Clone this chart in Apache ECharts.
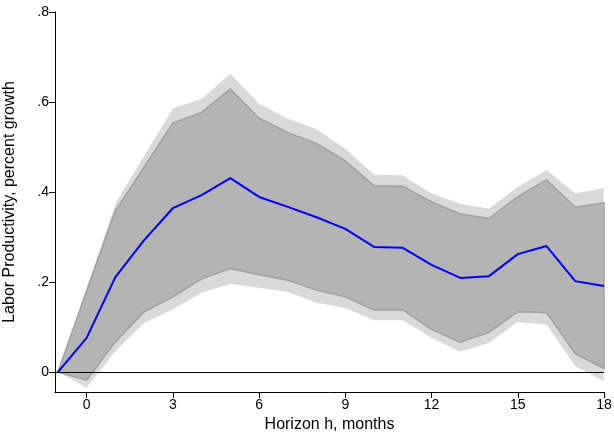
<!DOCTYPE html>
<html>
<head>
<meta charset="utf-8">
<script src="https://cdn.jsdelivr.net/npm/echarts@6/dist/echarts.min.js"></script>
<style>
  html, body { margin: 0; padding: 0; background: #fff; }
  #chart { width: 614px; height: 432px; }
</style>
</head>
<body>
<div id="chart"></div>
<script>
// horizonte en meses
const horizon = [-1, 0, 1, 2, 3, 4, 5, 6, 7, 8, 9, 10, 11, 12, 13, 14, 15, 16, 17, 18];
// respuesta estimada
const irf = [0, 0.076, 0.211, 0.293, 0.364, 0.393, 0.431, 0.389, 0.367, 0.344, 0.318, 0.278, 0.276, 0.238, 0.209, 0.213, 0.262, 0.28, 0.202, 0.191];
// banda interior
const innerLow = [0, -0.018, 0.067, 0.134, 0.167, 0.207, 0.23, 0.216, 0.204, 0.182, 0.167, 0.138, 0.138, 0.095, 0.066, 0.088, 0.134, 0.132, 0.041, 0.008];
const innerHigh = [0, 0.18, 0.358, 0.455, 0.553, 0.577, 0.629, 0.564, 0.532, 0.508, 0.469, 0.414, 0.413, 0.378, 0.351, 0.341, 0.39, 0.427, 0.366, 0.376];
// banda exterior
const outerLow = [0, -0.036, 0.045, 0.108, 0.138, 0.175, 0.195, 0.186, 0.177, 0.153, 0.141, 0.114, 0.114, 0.075, 0.044, 0.064, 0.11, 0.104, 0.012, -0.022];
const outerHigh = [0, 0.19, 0.376, 0.482, 0.587, 0.608, 0.664, 0.597, 0.564, 0.541, 0.497, 0.44, 0.438, 0.398, 0.375, 0.364, 0.412, 0.45, 0.398, 0.41];
// etiquetas de los ejes
const xTicks = [0, 3, 6, 9, 12, 15, 18];
const yTicks = [0, 0.2, 0.4, 0.6, 0.8];

const pairs = arr => horizon.map((h, i) => [h, arr[i]]);

const chart = echarts.init(document.getElementById("chart"));
const font = "Liberation Sans";

// banda como polígono: sube por el límite superior y baja por el inferior
const band = (name, lo, hi, fill, edge, edgeWidth) => ({
    name: name,
    type: "custom",
    silent: true,
    data: [0],
    encode: { x: -1, y: -1 },
    renderItem: function (params, api) {
        const top = horizon.map((h, i) => api.coord([h, hi[i]]));
        const bottom = horizon.map((h, i) => api.coord([h, lo[i]]));
        const ring = top.concat(bottom.slice().reverse());
        return {
            type: "polygon",
            shape: { points: ring },
            style: { fill: fill, stroke: edge, lineWidth: edgeWidth }
        };
    }
});

const option = {
    animation: false,
    backgroundColor: "#fff",
    grid: { left: 55, right: 10, top: 12, bottom: 40, containLabel: false, outerBoundsMode: "none" },
    xAxis: {
        type: "value",
        min: -1.1,
        max: 18,
        name: "Horizon h, months",
        nameLocation: "middle",
        nameGap: 24,
        nameTextStyle: { fontFamily: font, fontSize: 16, color: "#000" },
        axisLine: { show: true, onZero: false, lineStyle: { color: "#000", width: 1 } },
        axisTick: { show: true, length: 6, customValues: xTicks, lineStyle: { color: "#000" } },
        axisLabel: { customValues: xTicks, fontFamily: font, fontSize: 14, color: "#000", margin: 6 },
        splitLine: { show: false }
    },
    yAxis: {
        type: "value",
        min: -0.0444,
        max: 0.8,
        name: "Labor Productivity, percent growth",
        nameLocation: "middle",
        nameGap: 37,
        nameTextStyle: { fontFamily: font, fontSize: 16, color: "#000" },
        axisLine: { show: true, onZero: false, lineStyle: { color: "#000", width: 1 } },
        axisTick: { show: true, length: 6, customValues: yTicks, lineStyle: { color: "#000" } },
        axisLabel: {
            customValues: yTicks, fontFamily: font, fontSize: 14, color: "#000", margin: 6,
            formatter: v => v === 0 ? "0" : String(Math.round(v * 10) / 10).replace(/^0/, "")
        },
        splitLine: { show: false }
    },
    series: [
        band("outer", outerLow, outerHigh, "#d9d9d9", "#ffffff", 1),
        band("inner", innerLow, innerHigh, "#b4b4b4", "#a0a0a0", 1.5),
        {
            name: "irf", type: "line", data: pairs(irf), symbol: "none",
            lineStyle: { color: "#0000ff", width: 2 },
            z: 5,
            markLine: {
                silent: true, symbol: "none", label: { show: false },
                lineStyle: { color: "#000", width: 1, type: "solid" },
                data: [{ yAxis: 0 }]
            }
        }
    ]
};

chart.setOption(option);
</script>
</body>
</html>
